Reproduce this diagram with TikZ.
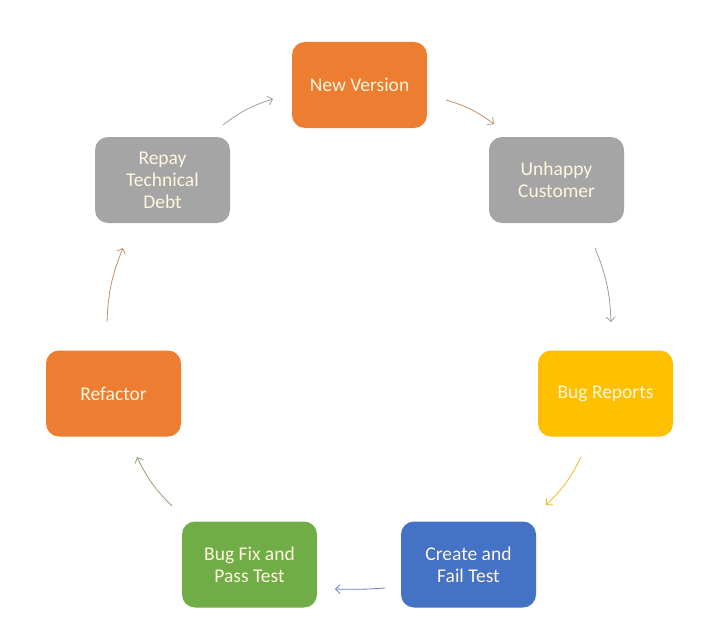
\documentclass[tikz,border=0pt]{standalone}
\usepackage{fontspec}
\setmainfont{Carlito}
\usetikzlibrary{arrows.meta}
\definecolor{cOrange}{HTML}{ED7D31}
\definecolor{cGray}{HTML}{A5A5A5}
\definecolor{cYellow}{HTML}{FFC000}
\definecolor{cBlue}{HTML}{4472C4}
\definecolor{cGreen}{HTML}{70AD47}
\definecolor{cText}{HTML}{FFF6DE}
\definecolor{aGray}{HTML}{9E9E96}
\tikzset{
  box/.style={rectangle, rounded corners=13pt, minimum width=135pt, minimum height=86pt,
    inner sep=0pt, align=center, text=cText, font=\fontsize{19.5}{22}\selectfont},
  conn/.style={line width=0.8pt, -{Straight Barb[length=4.5pt,width=9pt]}, bend left=10}
}
\begin{document}
\begin{tikzpicture}[x=1pt,y=-1pt]
\useasboundingbox (0,0) rectangle (722,623);
\node[box, fill=cOrange] (nv) at (359.5,85) {New Version};
\node[box, fill=cGray] (uc) at (556.5,180) {Unhappy\\Customer};
\node[box, fill=cYellow] (br) at (605.5,393.5) {Bug Reports};
\node[box, fill=cBlue] (cf) at (468.5,564.5) {Create and\\Fail Test};
\node[box, fill=cGreen] (bf) at (249.5,564.5) {Bug Fix and\\Pass Test};
\node[box, fill=cOrange] (rf) at (113.5,393.5) {Refactor};
\node[box, fill=cGray] (rt) at (162.5,180) {Repay\\Technical\\Debt};

\coordinate (a1s) at (446,100); \coordinate (a1e) at (494,124);
\coordinate (a2s) at (595,248); \coordinate (a2e) at (611,322);
\coordinate (a3s) at (581,457); \coordinate (a3e) at (546,505);
\coordinate (a4s) at (385,588); \coordinate (a4e) at (335,589);
\coordinate (a5s) at (172,506); \coordinate (a5e) at (137,457);
\coordinate (a6s) at (107,322); \coordinate (a6e) at (123,248);
\coordinate (a7s) at (223,125); \coordinate (a7e) at (273,99);

\draw[conn, color=aGray!60!cOrange] (a1s) to (a1e);
\draw[conn, color=aGray] (a2s) to (a2e);
\draw[conn, color=cYellow!80!aGray] (a3s) to (a3e);
\draw[conn, color=cBlue!65!aGray, bend left=3] (a4s) to (a4e);
\draw[conn, color=cGreen!40!aGray] (a5s) to (a5e);
\draw[conn, color=aGray!65!cOrange] (a6s) to (a6e);
\draw[conn, color=aGray] (a7s) to (a7e);
\end{tikzpicture}
\end{document}
